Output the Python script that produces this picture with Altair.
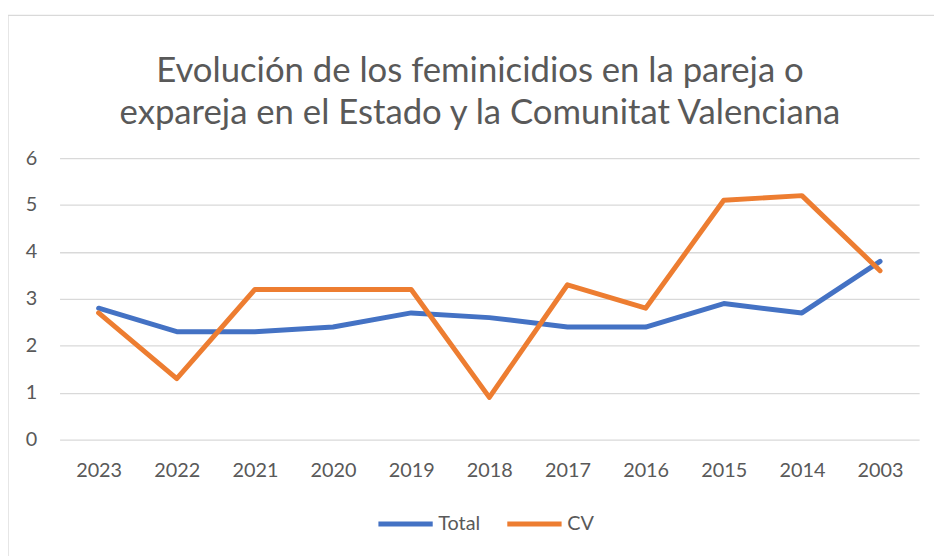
import altair as alt
import pandas as pd

years = ["2023", "2022", "2021", "2020", "2019", "2018", "2017", "2016", "2015", "2014", "2003"]
total = [2.8, 2.3, 2.3, 2.4, 2.7, 2.6, 2.4, 2.4, 2.9, 2.7, 3.8]
cv = [2.7, 1.3, 3.2, 3.2, 3.2, 0.9, 3.3, 2.8, 5.1, 5.2, 3.6]
series = ["Total", "CV"]
colors = ["#4472C4", "#ED7D31"]
title_lines = ["Evolución de los feminicidios en la pareja o",
               "expareja en el Estado y la Comunitat Valenciana"]

rows = []
for y, v in zip(years, total):
    rows.append({"year": y, "serie": "Total", "value": v})
for y, v in zip(years, cv):
    rows.append({"year": y, "serie": "CV", "value": v})
df = pd.DataFrame(rows)

FONT = "Lato"
GREY = "#595959"

lines = alt.Chart(df).mark_line(strokeWidth=5, strokeCap="round", strokeJoin="round").encode(
    x=alt.X("year:O", sort=years, title=None,
            scale=alt.Scale(type="point", padding=0.5),
            axis=alt.Axis(labelAngle=0, ticks=False, domain=False, grid=False,
                          labelFont=FONT, labelFontSize=20, labelColor=GREY,
                          labelPadding=21)),
    y=alt.Y("value:Q", title=None,
            scale=alt.Scale(domain=[0, 6], nice=False),
            axis=alt.Axis(values=[0, 1, 2, 3, 4, 5, 6], ticks=False, domain=False,
                          gridColor="#D9D9D9", gridWidth=1.3,
                          labelFont=FONT, labelFontSize=20, labelColor=GREY,
                          labelPadding=23)),
    color=alt.Color("serie:N", scale=alt.Scale(domain=series, range=colors),
                    sort=series,
                    legend=alt.Legend(title=None, orient="none", direction="horizontal",
                                      legendX=319, legendY=339,
                                      symbolType="stroke", symbolStrokeWidth=5,
                                      symbolSize=3000, columnPadding=16,
                                      labelFont=FONT, labelFontSize=20, labelColor=GREY,
                                      labelOffset=3)),
    order=alt.Order("year:O"),
)

one = pd.DataFrame({"a": [0]})

border = alt.Chart(one).mark_rect(
    fill=None, stroke="#D9D9D9", strokeWidth=1.3
).encode(x=alt.value(-52), y=alt.value(-144), x2=alt.value(1200), y2=alt.value(900))

title = alt.Chart(one).mark_text(
    text=title_lines, font=FONT, fontSize=35, color=GREY, align="center",
    baseline="alphabetic", lineHeight=43
).encode(x=alt.value(424), y=alt.value(-77))

chart = alt.layer(border, title, lines).properties(
    width=867, height=284,
    padding={"left": 52, "top": 149, "right": 15, "bottom": 115},
    autosize=alt.AutoSizeParams(type="none"),
).configure_view(stroke=None)

chart.save("out.html", embed_options={"renderer": "svg", "actions": False})
